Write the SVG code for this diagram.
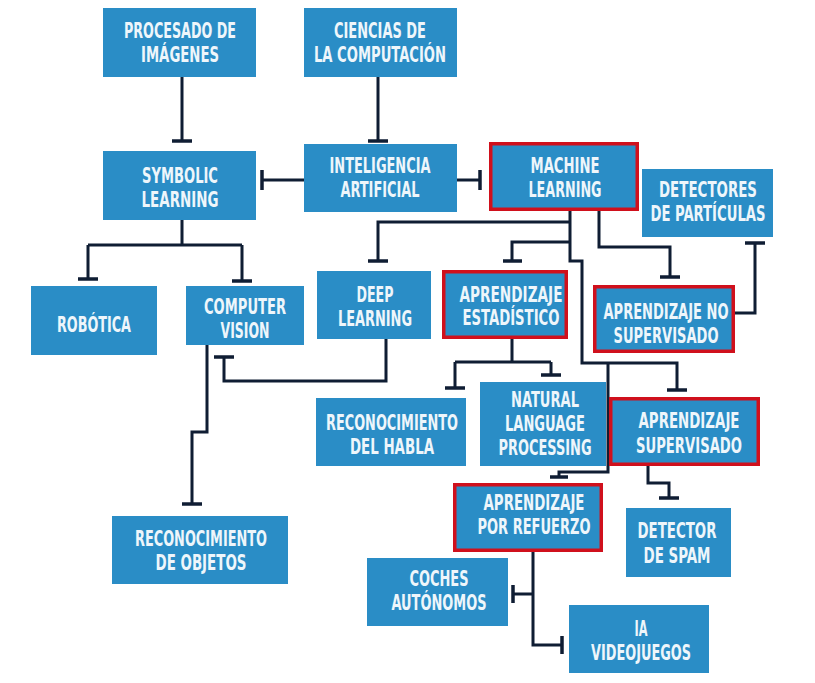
<svg xmlns="http://www.w3.org/2000/svg" width="815" height="683" viewBox="0 0 815 683">
<style>
.b{fill:#2a8dc6}
.r{fill:#2a8dc6;stroke:#d0101c;stroke-width:3.5}
.t{font-family:"Liberation Sans Narrow","DejaVu Sans Condensed","Liberation Sans",sans-serif;font-size:20.5px;font-weight:bold;fill:#eef6fb;text-anchor:middle}
.c path{fill:none;stroke:#0f1d33;stroke-width:3}
.c .bar{stroke-width:3.5}
</style>
<rect width="815" height="683" fill="#ffffff"/>
<g class="c" id="connectors">
<path d="M182,77V141"/><path class="bar" d="M172,141H192"/>
<path d="M378,77V141"/><path class="bar" d="M368,141H388"/>
<path d="M304,180H262"/><path class="bar" d="M262,170V190"/>
<path d="M457,180H480"/><path class="bar" d="M480,170V190"/>
<path d="M182,220V245M88,245H242M88,245V279M242,245V281"/><path class="bar" d="M78,279H98M232,281H252"/>
<path d="M570,211V261H582V363H677V390"/><path class="bar" d="M667,390H687"/>
<path d="M570,222H378V261"/><path class="bar" d="M368,261H388"/>
<path d="M570,242H512V261"/><path class="bar" d="M503,261H522"/>
<path d="M608,363V472H559V477"/><path class="bar" d="M550,477H568"/>
<path d="M599,211V247H670V277"/><path class="bar" d="M660,277H680"/>
<path d="M735,313H755V243"/><path class="bar" d="M745,243H765"/>
<path d="M386,339V381H224V357"/><path class="bar" d="M214,357H234"/>
<path d="M207,345V432H192V504"/><path class="bar" d="M182,504H202"/>
<path d="M512,339V362M455,362H551M455,362V388M551,362V375"/><path class="bar" d="M445,388H465M541,375H561"/>
<path d="M648,466V483H669V498"/><path class="bar" d="M659,498H679"/>
<path d="M533,552V645H562M533,594H513"/><path class="bar" d="M562,636V654M513,585V603"/>
</g>
<g id="procesado"><rect class="b" x="103" y="8" width="153" height="69"/><text class="t" x="180" y="38" textLength="112" lengthAdjust="spacingAndGlyphs">PROCESADO DE</text><text class="t" x="180" y="62" textLength="78" lengthAdjust="spacingAndGlyphs">IMÁGENES</text></g>
<g id="ciencias"><rect class="b" x="304" y="8" width="153" height="69"/><text class="t" x="380" y="38" textLength="92" lengthAdjust="spacingAndGlyphs">CIENCIAS DE</text><text class="t" x="380" y="62" textLength="132" lengthAdjust="spacingAndGlyphs">LA COMPUTACIÓN</text></g>
<g id="symbolic"><rect class="b" x="103" y="151" width="153" height="69"/><text class="t" x="180" y="183" textLength="76" lengthAdjust="spacingAndGlyphs">SYMBOLIC</text><text class="t" x="180" y="207" textLength="77" lengthAdjust="spacingAndGlyphs">LEARNING</text></g>
<g id="ia"><rect class="b" x="304" y="144" width="153" height="68"/><text class="t" x="380" y="173" textLength="101" lengthAdjust="spacingAndGlyphs">INTELIGENCIA</text><text class="t" x="380" y="197" textLength="79" lengthAdjust="spacingAndGlyphs">ARTIFICIAL</text></g>
<g id="ml"><rect class="r" x="490.75" y="143.75" width="146.5" height="65.5"/><text class="t" x="565" y="173" textLength="69" lengthAdjust="spacingAndGlyphs">MACHINE</text><text class="t" x="565" y="197" textLength="73" lengthAdjust="spacingAndGlyphs">LEARNING</text></g>
<g id="detectores"><rect class="b" x="642" y="169" width="131" height="68"/><text class="t" x="708" y="197" textLength="98" lengthAdjust="spacingAndGlyphs">DETECTORES</text><text class="t" x="708" y="221" textLength="115" lengthAdjust="spacingAndGlyphs">DE PARTÍCULAS</text></g>
<g id="robotica"><rect class="b" x="31" y="286" width="126" height="69"/><text class="t" x="94" y="332" textLength="74" lengthAdjust="spacingAndGlyphs">ROBÓTICA</text></g>
<g id="cv"><rect class="b" x="186" y="286" width="118" height="59"/><text class="t" x="245" y="314" textLength="82" lengthAdjust="spacingAndGlyphs">COMPUTER</text><text class="t" x="245" y="338" textLength="49" lengthAdjust="spacingAndGlyphs">VISION</text></g>
<g id="dl"><rect class="b" x="317" y="271" width="114" height="68"/><text class="t" x="375" y="302" textLength="37" lengthAdjust="spacingAndGlyphs">DEEP</text><text class="t" x="375" y="326" textLength="74" lengthAdjust="spacingAndGlyphs">LEARNING</text></g>
<g id="ae"><rect class="r" x="443.75" y="271.75" width="122.5" height="65.5"/><text class="t" x="511" y="302" textLength="103" lengthAdjust="spacingAndGlyphs">APRENDIZAJE</text><text class="t" x="511" y="325" textLength="97" lengthAdjust="spacingAndGlyphs">ESTADÍSTICO</text></g>
<g id="nosup"><rect class="r" x="594.75" y="286.75" width="138.5" height="64.5"/><text class="t" x="666" y="319" textLength="125" lengthAdjust="spacingAndGlyphs">APRENDIZAJE NO</text><text class="t" x="666" y="343" textLength="105" lengthAdjust="spacingAndGlyphs">SUPERVISADO</text></g>
<g id="habla"><rect class="b" x="316" y="398" width="150" height="68"/><text class="t" x="392" y="430" textLength="132" lengthAdjust="spacingAndGlyphs">RECONOCIMIENTO</text><text class="t" x="392" y="454" textLength="84" lengthAdjust="spacingAndGlyphs">DEL HABLA</text></g>
<g id="nlp"><rect class="b" x="480" y="382" width="126" height="84"/><text class="t" x="545" y="407" textLength="68" lengthAdjust="spacingAndGlyphs">NATURAL</text><text class="t" x="545" y="431" textLength="80" lengthAdjust="spacingAndGlyphs">LANGUAGE</text><text class="t" x="545" y="455" textLength="93" lengthAdjust="spacingAndGlyphs">PROCESSING</text></g>
<g id="sup"><rect class="r" x="610.75" y="398.75" width="147.5" height="65.5"/><text class="t" x="689" y="428" textLength="101" lengthAdjust="spacingAndGlyphs">APRENDIZAJE</text><text class="t" x="689" y="453" textLength="106" lengthAdjust="spacingAndGlyphs">SUPERVISADO</text></g>
<g id="objetos"><rect class="b" x="112" y="516" width="176" height="68"/><text class="t" x="201" y="546" textLength="132" lengthAdjust="spacingAndGlyphs">RECONOCIMIENTO</text><text class="t" x="201" y="570" textLength="91" lengthAdjust="spacingAndGlyphs">DE OBJETOS</text></g>
<g id="refuerzo"><rect class="r" x="454.75" y="484.75" width="146.5" height="65.5"/><text class="t" x="534" y="510" textLength="101" lengthAdjust="spacingAndGlyphs">APRENDIZAJE</text><text class="t" x="534" y="534" textLength="113" lengthAdjust="spacingAndGlyphs">POR REFUERZO</text></g>
<g id="spam"><rect class="b" x="626" y="508" width="105" height="69"/><text class="t" x="677" y="538" textLength="79" lengthAdjust="spacingAndGlyphs">DETECTOR</text><text class="t" x="677" y="563" textLength="67" lengthAdjust="spacingAndGlyphs">DE SPAM</text></g>
<g id="coches"><rect class="b" x="367" y="558" width="141" height="68"/><text class="t" x="439" y="586" textLength="59" lengthAdjust="spacingAndGlyphs">COCHES</text><text class="t" x="439" y="610" textLength="95" lengthAdjust="spacingAndGlyphs">AUTÓNOMOS</text></g>
<g id="videojuegos"><rect class="b" x="569" y="605" width="140" height="68"/><text class="t" x="641" y="636" textLength="13" lengthAdjust="spacingAndGlyphs">IA</text><text class="t" x="641" y="660" textLength="100" lengthAdjust="spacingAndGlyphs">VIDEOJUEGOS</text></g>
</svg>
